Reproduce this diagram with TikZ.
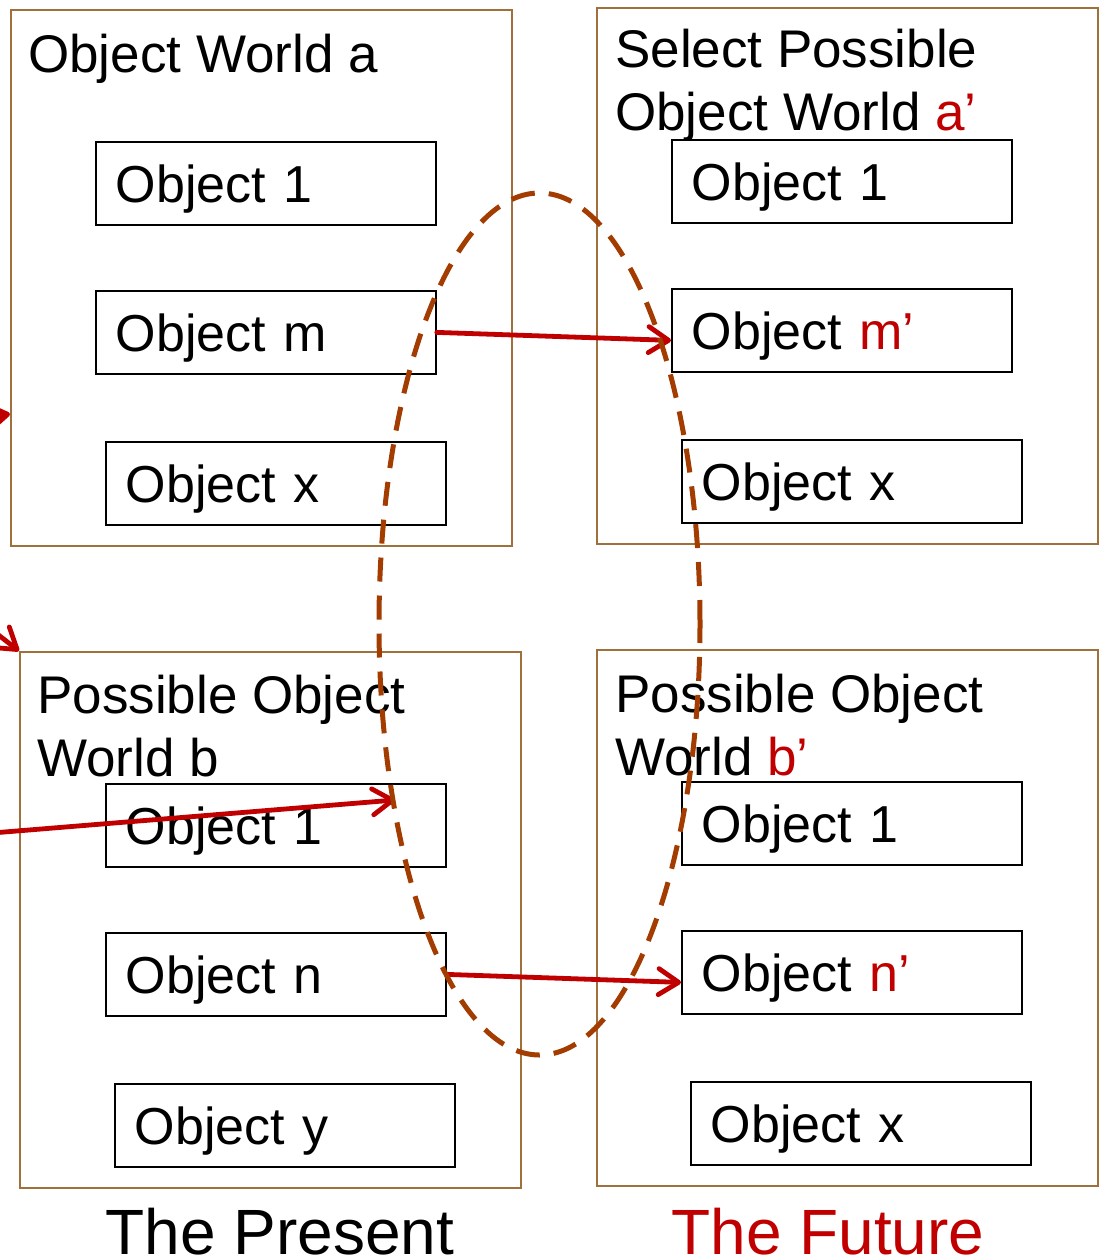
\documentclass[tikz,border=0pt]{standalone}
\usepackage{fontspec}
\setmainfont{Liberation Sans}
\usetikzlibrary{arrows.meta}
\definecolor{worldbrown}{HTML}{A0703C}
\definecolor{futurered}{HTML}{C00000}
\definecolor{ovalbrown}{HTML}{A33C00}
\tikzstyle{world}=[draw=worldbrown, line width=1.8pt, anchor=north west, inner sep=0pt, minimum width=501pt, minimum height=536pt]
\tikzstyle{objbox}=[draw, line width=1.8pt, anchor=north west, minimum height=83pt, text width=300pt, inner xsep=20pt, inner ysep=0pt, text height=38pt, text depth=0pt, font=\fontsize{52}{62}\selectfont]
\tikzstyle{title}=[anchor=north west, inner sep=0pt, align=left, font=\fontsize{53}{63}\selectfont]
\tikzstyle{era}=[anchor=base, inner sep=0pt, font=\fontsize{64}{70}\selectfont]
\tikzstyle{link}=[draw=futurered, line width=4.8pt, line cap=round, -{Straight Barb[length=20pt,width=26pt,round]}]
\tikzstyle{oval}=[draw=ovalbrown, line width=5pt, dash pattern=on 24pt off 14pt]
\newcommand{\world}{\node[world]}
\newcommand{\objbox}{\node[objbox]}
\newcommand{\fut}[1]{\textcolor{futurered}{#1}}

\begin{document}
\begin{tikzpicture}[x=1pt, y=-1pt]
\useasboundingbox (0,0) rectangle (1101,1260);
% the present
\world (wa) at (10,9) {};
\node[title] (ta) at (28,34) {Object World a};
\objbox (a1) at (95,141) {Object 1};
\objbox (am) at (95,290) {Object m};
\objbox (ax) at (105,441) {Object x};
\world (wb) at (19,651) {};
\node[title] (tb) at (37,675) {Possible Object\\World b};
\objbox (b1) at (105,783) {Object 1};
\objbox (bn) at (105,932) {Object n};
\objbox (by) at (114,1083) {Object y};
% the future
\world (wap) at (596,7) {};
\node[title] (tap) at (615,29) {Select Possible\\Object World \fut{a’}};
\objbox (a1p) at (671,139) {Object 1};
\objbox (amp) at (671,288) {Object \fut{m’}};
\objbox (axp) at (681,439) {Object x};
\world (wbp) at (596,649) {};
\node[title] (tbp) at (615,674) {Possible Object\\World \fut{b’}};
\objbox (b1p) at (681,781) {Object 1};
\objbox (bnp) at (681,930) {Object \fut{n’}};
\objbox (bxp) at (690,1081) {Object x};
\node[era] (present) at (280,1254) {The Present};
\node[era, text=futurered] (future) at (828,1254) {The Future};
% links
\coordinate (ina) at (-60,425);
\coordinate (inb) at (-40,605);
\coordinate (inc) at (-20,834);
\coordinate (endc) at (395,800);
\draw[link] (am.east) -- ([yshift=-10pt]amp.west);
\draw[link] (bn.east) -- ([yshift=-10pt]bnp.west);
\draw[link] (ina) -- ([yshift=-136pt]wa.west);
\draw[link] (inb) -- (wb.north west);
\draw[link] (inc) -- (endc);
\draw[oval] (539.5,624) ellipse [x radius=160.5pt, y radius=431pt];
\end{tikzpicture}
\end{document}
